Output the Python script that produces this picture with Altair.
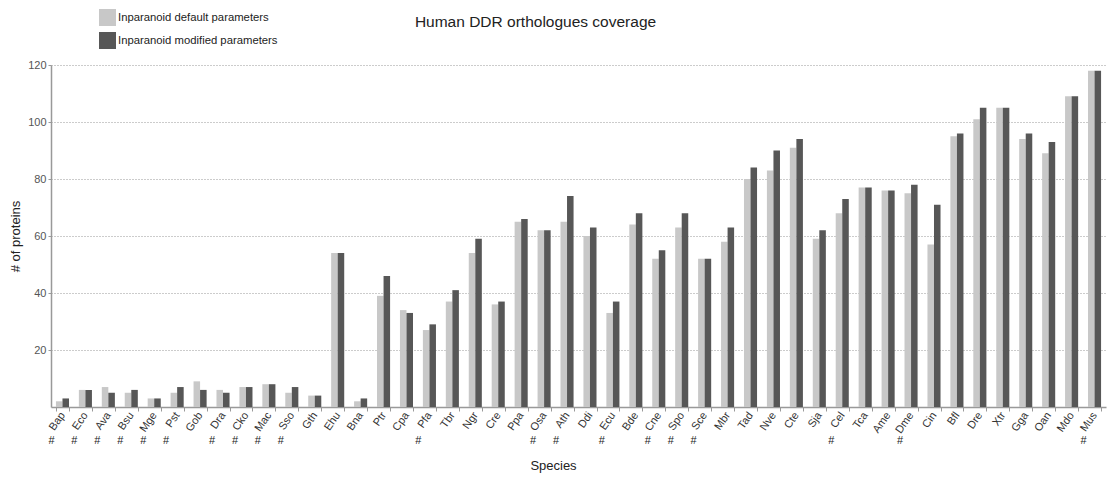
import altair as alt
import pandas as pd

species = ["Bap", "Eco", "Ava", "Bsu", "Mge", "Pst", "Gob", "Dra", "Cko", "Mac", "Sso",
           "Gth", "Ehu", "Bna", "Ptr", "Cpa", "Pfa", "Tbr", "Ngr", "Cre", "Ppa", "Osa",
           "Ath", "Ddi", "Ecu", "Bde", "Cne", "Spo", "Sce", "Mbr", "Tad", "Nve", "Cte",
           "Sja", "Cel", "Tca", "Ame", "Dme", "Cin", "Bfl", "Dre", "Xtr", "Gga", "Oan",
           "Mdo", "Mus"]
default_params = [2, 6, 7, 5, 3, 5, 9, 6, 7, 8, 5,
                  4, 54, 2, 39, 34, 27, 37, 54, 36, 65, 62,
                  65, 60, 33, 64, 52, 63, 52, 58, 80, 83, 91,
                  59, 68, 77, 76, 75, 57, 95, 101, 105, 94, 89,
                  109, 118]
modified_params = [3, 6, 5, 6, 3, 7, 6, 5, 7, 8, 7,
                   4, 54, 3, 46, 33, 29, 41, 59, 37, 66, 62,
                   74, 63, 37, 68, 55, 68, 52, 63, 84, 90, 94,
                   62, 73, 77, 76, 78, 71, 96, 105, 105, 96, 93,
                   109, 118]
hash_marked = ["Bap", "Eco", "Ava", "Bsu", "Mge", "Pst", "Dra", "Cko", "Mac", "Sso",
               "Pfa", "Osa", "Ath", "Ecu", "Cne", "Spo", "Sce", "Cel", "Dme", "Mus"]

series_names = ["Inparanoid default parameters", "Inparanoid modified parameters"]
series_colors = ["#c8c8c8", "#575757"]

rows = []
for s, d, m in zip(species, default_params, modified_params):
    rows.append({"Species": s, "Parameters": series_names[0], "Proteins": d})
    rows.append({"Species": s, "Parameters": series_names[1], "Proteins": m})
df = pd.DataFrame(rows)

hash_df = pd.DataFrame({"Species": species,
                        "mark": ["#" if s in hash_marked else "" for s in species]})

FONT = "Liberation Sans"

x_enc = alt.X(
    "Species:N", sort=species, title="Species",
    scale=alt.Scale(paddingInner=0.43, paddingOuter=0.215),
    axis=alt.Axis(labelAngle=-55, tickBand="extent", labelFontSize=11,
                  labelColor="#333333", labelFont=FONT, labelPadding=2,
                  domainColor="#999999", domainWidth=1.5, tickColor="#999999",
                  tickSize=4, titleFontSize=13, titleFont=FONT, titleFontWeight="normal",
                  titleColor="#222222", titleX=502, titleY=58, titleBaseline="middle"),
)

bars = alt.Chart(df).mark_bar().encode(
    x=x_enc,
    xOffset=alt.XOffset("Parameters:N", sort=series_names, scale=alt.Scale(paddingInner=0)),
    y=alt.Y("Proteins:Q", title="# of proteins",
            scale=alt.Scale(domain=[0, 120], nice=False),
            axis=alt.Axis(values=[20, 40, 60, 80, 100, 120], labelFontSize=11,
                          labelColor="#555555", labelFont=FONT,
                          grid=True, gridDash=[1, 2], gridColor="#999999", gridWidth=1,
                          domainColor="#999999", domainWidth=1.5, tickColor="#999999",
                          tickSize=3, titleFontSize=13, titleFont=FONT,
                          titleFontWeight="normal", titleColor="#222222",
                          titlePadding=5)),
    color=alt.Color("Parameters:N", sort=series_names,
                    scale=alt.Scale(domain=series_names, range=series_colors),
                    legend=alt.Legend(title=None, orient="none", legendX=48, legendY=-56,
                                      symbolType="square", symbolSize=289,
                                      symbolStrokeWidth=0, labelFontSize=11.3,
                                      labelFont=FONT, labelColor="#222222",
                                      rowPadding=6, labelOffset=2)),
)

hashes = alt.Chart(hash_df).mark_text(
    font=FONT, fontSize=11, color="#222222", dx=-11, baseline="middle"
).encode(
    x=alt.X("Species:N", sort=species),
    y=alt.value(376),
    text="mark:N",
)

chart = alt.layer(bars, hashes).properties(
    width=1055, height=342,
    title=alt.TitleParams("Human DDR orthologues coverage", fontSize=15.5, font=FONT,
                          fontWeight="normal", color="#222222", anchor="middle",
                          dx=-43, offset=-21),
    padding={"left": 51, "top": 65, "right": 1, "bottom": 72},
    autosize="none",
).configure_view(stroke=None)

chart.save("out.html", embed_options={"renderer": "svg", "actions": False})
